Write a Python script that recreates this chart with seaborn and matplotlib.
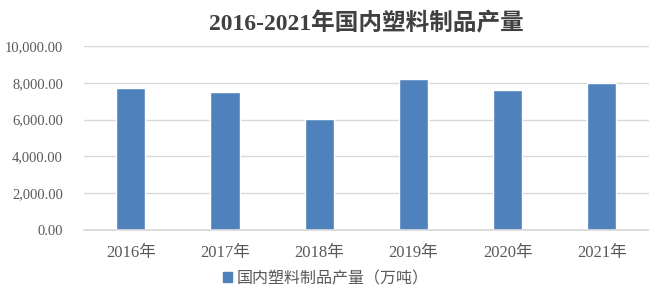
import matplotlib
matplotlib.use("Agg")
import matplotlib.pyplot as plt
import seaborn as sns
import pandas as pd
from matplotlib.ticker import FuncFormatter
from matplotlib.patches import Patch

years = ["2016年", "2017年", "2018年", "2019年", "2020年", "2021年"]
values = [7717.2, 7515.5, 6042.1, 8184.2, 7603.2, 8004.0]
series_name = "国内塑料制品产量（万吨）"
title = "2016-2021年国内塑料制品产量"

sns.set_theme(style="white")
plt.rcParams["font.family"] = ["Liberation Serif", "Noto Sans CJK SC", "DejaVu Sans"]

df = pd.DataFrame({"year": years, "value": values})

fig = plt.figure(figsize=(6.49, 3.01), dpi=100)
ax = fig.add_axes([0.129, 0.236, 0.871, 0.611])
sns.barplot(data=df, x="year", y="value", color="#4F81BD", saturation=1, width=0.31, ax=ax)

ax.set_ylim(0, 10000)
ax.set_yticks([0, 2000, 4000, 6000, 8000, 10000])
ax.yaxis.set_major_formatter(FuncFormatter(lambda v, p: f"{v:,.2f}"))
ax.grid(axis="y", color="#D9D9D9", linewidth=1)
ax.set_axisbelow(True)
for s in ["top", "right", "left"]:
    ax.spines[s].set_visible(False)
ax.spines["bottom"].set_color("#D9D9D9")
ax.set_xlabel("")
ax.set_ylabel("")
ax.tick_params(axis="y", length=0, labelsize=10.5, colors="#595959", pad=15)
ax.tick_params(axis="x", length=0, labelsize=12, colors="#595959", pad=11)

ax.set_title(title, fontsize=17, fontweight="bold", color="#404040", pad=11)

ax.legend(handles=[Patch(color="#4F81BD", label=series_name)], loc="center",
          bbox_to_anchor=(0.502, 0.073), bbox_transform=fig.transFigure,
          frameon=False, fontsize=11.5, handlelength=0.6, handleheight=0.6,
          handletextpad=0.3, labelcolor="#595959", borderpad=0)

fig.savefig("out.png", dpi=100)
